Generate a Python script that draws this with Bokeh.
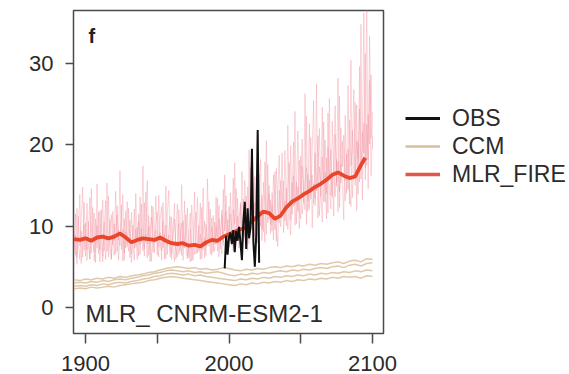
from bokeh.plotting import figure
from bokeh.layouts import row
from bokeh.models import Range1d, Legend, LegendItem, Label, FixedTicker
from bokeh.embed import file_html
from bokeh.resources import INLINE

# ---------------- data ----------------
member_years = list(range(1892, 2101))

fire_member_a = [
    7.2, 11.5, 6.1, 9.8, 13.9, 5.4, 8.7, 10.2,
    6.3, 12.8, 7.5, 5.9, 14.6, 8.1, 6.8, 10.9, 7.3, 11.7,
    5.6, 9.4, 13.2, 7.0, 8.8, 15.3, 6.2, 9.1, 11.4, 7.7,
    10.3, 6.6, 12.5, 8.3, 16.8, 7.1, 9.6, 5.8, 11.9, 8.4,
    6.9, 10.7, 5.5, 8.2, 12.1, 7.4, 9.9, 6.3, 13.6, 8.0,
    17.4, 7.2, 9.0, 6.1, 11.3, 8.6, 5.7, 12.4, 7.9, 9.5,
    6.4, 13.8, 8.1, 7.0, 10.6, 5.9, 14.9, 7.6, 8.9, 6.2,
    11.1, 7.3, 5.6, 9.8, 12.7, 6.5, 8.0, 10.4, 5.8, 13.1,
    7.2, 6.0, 9.3, 11.6, 5.7, 8.4, 14.2, 6.6, 7.8, 10.1,
    5.9, 12.3, 7.1, 8.6, 6.4, 15.8, 7.5, 9.2, 11.0, 6.8,
    10.5, 7.7, 13.4, 6.2, 9.1, 12.0, 7.6, 16.3, 8.3, 10.8,
    7.4, 14.1, 9.0, 6.9, 17.8, 8.5, 11.2, 7.3, 12.9, 9.4,
    8.1, 15.6, 10.2, 7.0, 19.4, 9.3, 12.5, 8.4, 16.1, 10.7,
    7.9, 13.3, 18.2, 9.6, 11.8, 8.0, 20.5, 10.4, 13.9, 9.1,
    12.6, 8.3, 16.7, 10.1, 7.5, 14.4, 11.3, 19.0, 9.2, 13.1,
    10.0, 22.4, 11.7, 8.9, 15.3, 12.4, 24.1, 10.3, 14.8, 9.7,
    18.6, 11.5, 13.0, 26.3, 10.2, 16.4, 12.1, 20.9, 9.8, 15.2,
    13.4, 27.5, 11.0, 17.3, 14.6, 10.5, 22.8, 12.9, 18.4, 11.6,
    25.7, 13.8, 16.0, 11.2, 21.3, 14.9, 28.2, 12.3, 17.6, 15.1,
    10.8, 23.6, 14.0, 19.5, 12.7, 30.4, 13.5, 16.9, 25.2, 11.9,
    20.3, 15.4, 34.8, 13.2, 22.7, 17.1, 38.5, 14.6, 27.9, 16.2,
    21.0,
]

fire_member_b = [
    9.6, 6.4, 12.2, 7.8, 5.9, 10.7, 14.8, 7.0,
    10.4, 5.8, 8.9, 13.5, 6.7, 9.9, 11.6, 5.5, 15.2, 8.3,
    7.1, 12.0, 6.3, 10.5, 5.9, 8.6, 13.7, 7.4, 6.0, 11.8,
    8.2, 14.3, 6.9, 9.5, 7.6, 12.6, 5.7, 10.9, 7.3, 13.0,
    9.2, 6.1, 11.7, 7.9, 5.8, 14.0, 8.4, 10.6, 6.5, 9.7,
    7.0, 12.9, 8.1, 15.6, 6.4, 9.3, 11.1, 6.8, 8.7, 13.7,
    8.5, 6.2, 10.8, 12.4, 7.3, 9.0, 6.0, 11.5, 14.4, 7.1,
    6.7, 9.6, 12.8, 5.9, 8.1, 10.3, 6.9, 15.1, 7.4, 8.2,
    11.4, 6.3, 7.8, 5.6, 12.6, 9.1, 6.5, 8.8, 13.5, 6.9,
    9.0, 7.2, 14.7, 6.1, 10.2, 7.7, 8.5, 12.1, 6.4, 11.3,
    7.8, 13.6, 6.9, 10.9, 8.3, 6.6, 14.5, 9.4, 11.8, 7.5,
    12.4, 8.2, 10.6, 15.9, 7.7, 9.8, 13.4, 8.8, 6.9, 16.7,
    11.0, 8.6, 13.7, 9.9, 7.8, 17.2, 10.4, 12.8, 8.7, 14.3,
    19.8, 9.5, 11.9, 8.2, 15.4, 12.7, 9.0, 17.6, 10.8, 13.2,
    9.4, 16.3, 11.2, 8.1, 13.9, 18.7, 9.9, 12.0, 15.5, 10.6,
    14.7, 9.6, 12.8, 19.9, 11.4, 16.2, 10.1, 13.5, 21.7, 12.2,
    10.9, 17.4, 14.1, 12.0, 23.5, 11.8, 15.7, 13.3, 19.2, 25.4,
    12.5, 15.9, 21.1, 11.3, 14.2, 24.6, 13.0, 16.6, 10.9, 19.7,
    14.4, 12.1, 22.9, 16.8, 13.6, 18.2, 11.7, 26.0, 15.3, 20.4,
    17.9, 13.1, 16.5, 27.3, 14.8, 12.4, 21.8, 18.7, 15.0, 24.9,
    13.9, 29.6, 17.0, 19.8, 36.2, 15.7, 22.5, 18.1, 33.4, 20.8,
    24.0,
]

fire_member_c = [
    6.8, 8.9, 5.3, 11.2, 7.6, 9.4, 6.2, 12.9,
    8.5, 7.1, 10.6, 6.0, 9.2, 12.3, 5.7, 8.0, 10.1, 6.6,
    11.9, 7.8, 5.6, 9.7, 13.1, 6.9, 8.3, 10.8, 5.9, 9.0,
    6.4, 9.8, 11.4, 5.8, 8.7, 10.2, 13.9, 6.7, 9.3, 7.5,
    12.2, 8.0, 6.6, 10.1, 7.3, 9.6, 5.9, 11.5, 7.7, 12.7,
    9.1, 6.3, 14.2, 7.8, 10.0, 5.6, 12.5, 8.9, 6.7, 10.4,
    11.7, 7.4, 9.2, 5.8, 12.9, 8.3, 10.1, 6.5, 9.6, 11.2,
    5.9, 8.7, 10.9, 7.0, 6.2, 12.0, 9.1, 6.4, 10.7, 7.3,
    8.9, 12.2, 6.1, 9.6, 7.4, 5.8, 10.3, 11.7, 6.7, 8.5,
    12.8, 6.0, 9.3, 10.6, 7.5, 8.2, 13.0, 6.6, 9.9, 8.0,
    6.9, 10.0, 8.7, 12.5, 7.2, 11.4, 8.0, 10.3, 13.7, 8.6,
    9.7, 11.5, 7.6, 12.0, 10.3, 14.6, 8.4, 10.9, 12.6, 7.8,
    13.3, 10.1, 8.9, 14.8, 11.6, 9.2, 16.0, 10.5, 12.9, 9.6,
    11.7, 16.4, 10.0, 13.8, 9.3, 17.9, 11.4, 12.3, 15.0, 10.2,
    14.1, 11.0, 9.6, 17.1, 12.8, 10.4, 15.6, 13.0, 11.5, 19.3,
    12.0, 14.5, 17.8, 10.7, 13.9, 20.3, 12.6, 15.4, 11.8, 18.1,
    14.0, 20.7, 12.9, 15.6, 17.2, 13.1, 22.6, 14.7, 16.3, 12.8,
    19.0, 14.3, 16.8, 22.0, 13.7, 18.5, 15.2, 20.6, 14.0, 23.9,
    16.1, 19.4, 13.5, 17.7, 24.8, 15.4, 18.0, 14.2, 22.1, 17.3,
    21.2, 15.6, 18.9, 14.5, 23.0, 17.4, 19.6, 26.8, 16.0, 20.5,
    18.3, 24.4, 15.8, 21.6, 19.0, 31.2, 17.5, 23.7, 20.1, 28.6,
    19.5,
]

fire_mean_years = [1892, 1896, 1900, 1904, 1908, 1912, 1916, 1920, 1924, 1928,
                   1932, 1936, 1940, 1944, 1948, 1952, 1956, 1960, 1964, 1968,
                   1972, 1976, 1980, 1984, 1988, 1992, 1996, 2000, 2004, 2008,
                   2012, 2016, 2020, 2024, 2028, 2032, 2036, 2040, 2044, 2048,
                   2052, 2056, 2060, 2064, 2068, 2072, 2076, 2080, 2084, 2088,
                   2092, 2095]
fire_mean = [8.4, 8.3, 8.5, 8.2, 8.6, 8.7, 8.5, 8.7, 9.1, 8.6,
             8.0, 8.3, 8.5, 8.4, 8.3, 8.6, 8.2, 7.9, 7.8, 7.9,
             7.6, 7.7, 7.5, 8.0, 8.3, 8.2, 8.7, 9.0, 9.3, 9.6,
             9.8, 10.6, 11.2, 11.8, 11.6, 10.9, 11.3, 12.3, 13.0, 13.4,
             13.9, 14.3, 14.8, 15.2, 15.7, 16.3, 16.6, 16.2, 15.9, 16.1,
             17.5, 18.4]

ccm_years = list(range(1892, 2101, 4))
ccm_1 = [3.4, 3.3, 3.5, 3.4, 3.6, 3.5, 3.7, 3.6, 3.8, 3.7,
         3.9, 4.0, 4.1, 4.3, 4.4, 4.6, 4.8, 4.9, 5.0, 4.9,
         4.8, 4.9, 4.7, 4.8, 4.6, 4.7, 4.9, 4.8, 4.6, 4.5,
         4.7, 4.6, 4.8, 4.7, 4.9, 5.0, 4.9, 5.1, 5.0, 5.2,
         5.1, 5.3, 5.2, 5.4, 5.3, 5.5, 5.6, 5.4, 5.7, 5.8,
         5.6, 6.0, 5.9]
ccm_2 = [3.0, 3.1, 3.0, 3.2, 3.1, 3.3, 3.2, 3.4, 3.5, 3.4,
         3.6, 3.7, 3.9, 4.0, 4.2, 4.3, 4.5, 4.6, 4.5, 4.4,
         4.5, 4.3, 4.4, 4.2, 4.3, 4.4, 4.2, 4.0, 3.9, 4.1,
         4.0, 4.2, 4.1, 4.3, 4.2, 4.4, 4.5, 4.4, 4.6, 4.5,
         4.7, 4.6, 4.8, 4.9, 4.8, 5.0, 5.1, 4.9, 5.2, 5.3,
         5.1, 5.4, 5.5]
ccm_3 = [2.6, 2.7, 2.6, 2.8, 2.7, 2.9, 2.8, 3.0, 3.1, 3.0,
         3.2, 3.3, 3.5, 3.6, 3.8, 3.9, 4.1, 4.2, 4.1, 4.0,
         4.1, 3.9, 4.0, 3.8, 3.7, 3.6, 3.5, 3.4, 3.3, 3.5,
         3.4, 3.6, 3.5, 3.7, 3.6, 3.8, 3.7, 3.9, 3.8, 4.0,
         3.9, 4.1, 4.0, 4.2, 4.1, 4.3, 4.2, 4.4, 4.3, 4.5,
         4.4, 4.6, 4.5]
ccm_4 = [2.3, 2.4, 2.3, 2.5, 2.4, 2.5, 2.6, 2.5, 2.7, 2.8,
         2.9, 3.0, 3.1, 3.3, 3.4, 3.6, 3.7, 3.8, 3.7, 3.6,
         3.5, 3.4, 3.3, 3.2, 3.1, 3.0, 2.9, 2.8, 2.7, 2.9,
         2.8, 3.0, 2.9, 3.1, 3.0, 3.2, 3.1, 3.3, 3.2, 3.4,
         3.3, 3.5, 3.4, 3.6, 3.5, 3.7, 3.6, 3.8, 3.7, 3.8,
         3.6, 3.9, 3.8]

obs_years = list(range(1997, 2022))
obs = [4.8, 8.8, 6.5, 8.6, 9.2, 7.8, 9.5, 6.8, 9.4, 8.2,
       9.9, 8.0, 5.8, 10.5, 13.0, 7.2, 12.2, 8.5, 9.8, 19.5,
       8.0, 5.0, 9.0, 21.8, 5.5]

x_ticks = [1900, 1950, 2000, 2050, 2100]
x_tick_labels = {1900: "1900", 1950: "", 2000: "2000", 2050: "", 2100: "2100"}
y_ticks = [0, 10, 20, 30]
legend_labels = ["OBS", "CCM", "MLR_FIRE"]
panel_tag = "f"
model_label = "MLR_ CNRM-ESM2-1"

# ---------------- styles ----------------
FONT = "Liberation Sans"
C_OBS = "#111111"
C_CCM = "#d9bf9c"
C_FIRE = "#e8472b"
C_FIRE_THIN = "#f28d9a"

p = figure(width=400, height=374, output_backend="svg", toolbar_location=None,
           x_range=Range1d(1891.6, 2107.7), y_range=Range1d(-3.2, 36.5),
           min_border_left=73, min_border_right=17, min_border_top=10,
           min_border_bottom=41)
p.grid.visible = False
p.outline_line_color = "#4a4a4a"
p.outline_line_width = 1.5
p.background_fill_color = "white"
p.border_fill_color = "white"

for ax in (p.xaxis[0], p.yaxis[0]):
    ax.axis_line_color = None
    ax.minor_tick_line_color = None
    ax.major_tick_line_color = "#4a4a4a"
    ax.major_tick_line_width = 1.5
    ax.major_tick_in = 0
    ax.major_label_text_font = FONT
    ax.major_label_text_color = "#2b2b2b"

p.xaxis.ticker = FixedTicker(ticks=x_ticks)
p.xaxis.major_label_overrides = x_tick_labels
p.xaxis.major_tick_out = 10
p.xaxis.major_label_standoff = 12
p.xaxis.major_label_text_line_height = 0.6
p.xaxis.major_label_text_font_size = "22px"
p.yaxis.ticker = FixedTicker(ticks=y_ticks)
p.yaxis.major_tick_out = 8
p.yaxis.major_label_standoff = 12
p.yaxis.major_label_text_font_size = "22px"

for m in (fire_member_a, fire_member_b, fire_member_c):
    p.line(member_years, m, line_color=C_FIRE_THIN, line_alpha=0.36, line_width=1)

for c in (ccm_1, ccm_2, ccm_3, ccm_4):
    p.line(ccm_years, c, line_color=C_CCM, line_alpha=0.85, line_width=1.5)

p.line(fire_mean_years, fire_mean, line_color=C_FIRE, line_width=3.8)
p.line(obs_years, obs, line_color=C_OBS, line_width=2)

p.add_layout(Label(x=1902, y=33.4, text=panel_tag, text_font=FONT,
                   text_font_style="bold", text_font_size="20px",
                   text_color="#222222", text_baseline="alphabetic"))
p.add_layout(Label(x=1900, y=-0.75, text=model_label, text_font=FONT,
                   text_font_size="24px", text_color="#2b2b2b",
                   text_baseline="alphabetic"))

# legend panel (separate figure so the legend is not clipped by the frame)
lg = figure(width=169, height=374, output_backend="svg", toolbar_location=None,
            x_range=Range1d(0, 1), y_range=Range1d(0, 1),
            x_axis_type=None, y_axis_type=None,
            min_border_left=0, min_border_right=0, min_border_top=0,
            min_border_bottom=0)
lg.grid.visible = False
lg.outline_line_color = None
lg.background_fill_color = "white"
lg.border_fill_color = "white"

# single off-range points: these lines only feed the legend swatches
leg_obs = lg.line(x=[-5], y=[-5], line_color=C_OBS, line_width=3)
leg_ccm = lg.line(x=[-5], y=[-5], line_color=C_CCM, line_width=2.5)
leg_fire = lg.line(x=[-5], y=[-5], line_color="#e4554a", line_width=3.5)

legend = Legend(items=[LegendItem(label=legend_labels[0], renderers=[leg_obs]),
                       LegendItem(label=legend_labels[1], renderers=[leg_ccm]),
                       LegendItem(label=legend_labels[2], renderers=[leg_fire])],
                location=(5, 145), orientation="vertical",
                glyph_width=35, glyph_height=28, label_height=28, spacing=0,
                label_standoff=12, padding=0, margin=0,
                label_text_font=FONT, label_text_font_size="23px",
                label_text_color="#2b2b2b",
                border_line_color=None, background_fill_alpha=0)
lg.add_layout(legend)

layout = row(p, lg, spacing=0)
open("out.html", "w").write(file_html(layout, INLINE))
